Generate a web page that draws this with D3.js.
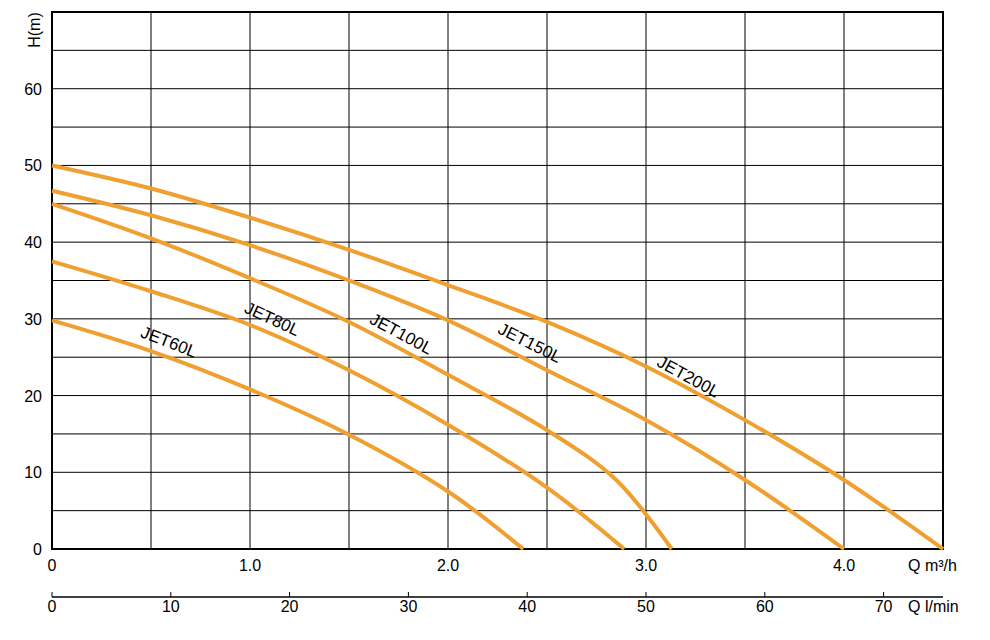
<!DOCTYPE html>
<html><head><meta charset="utf-8">
<script src="https://cdn.jsdelivr.net/npm/d3@7"></script>
<style>body{margin:0;background:#fff}text{font-family:Arial,"Liberation Sans",sans-serif}</style>
</head><body><svg id="c" width="990" height="640"></svg>
<script>
const xTicks=[0,1.0,2.0,3.0,4.0];
const yTicks=[0,10,20,30,40,50,60];
const lTicks=[0,10,20,30,40,50,60,70];
const jet60=[[0,29.8],[0.5,25.8],[1.0,20.8],[1.5,14.9],[2.0,7.5],[2.38,0]];
const jet80=[[0,37.5],[0.5,33.6],[1.0,29.2],[1.5,23.3],[2.0,16.2],[2.5,8],[2.89,0]];
const jet100=[[0,45],[0.5,40.5],[1.0,35.3],[1.5,29.6],[2.0,22.7],[2.5,15.5],[2.85,9],[3.13,0]];
const jet150=[[0,46.7],[0.5,43.5],[1.0,39.6],[1.5,35],[2.0,29.8],[2.5,23.3],[3.0,16.8],[3.5,9],[4.0,0]];
const jet200=[[0,50],[0.5,47],[1.0,43.2],[1.5,39],[2.0,34.4],[2.5,29.6],[3.0,23.8],[3.5,16.8],[4.0,9],[4.5,0]];
const labels=[["JET60L",0.58,26.3,jet60],["JET80L",1.1,29.3,jet80],["JET100L",1.75,27.4,jet100],["JET150L",2.4,26.2,jet150],["JET200L",3.2,21.8,jet200]];
const svg=d3.select("#c");
const x=d3.scaleLinear().domain([0,4.5]).range([52,943]);
const y=d3.scaleLinear().domain([0,70]).range([549,12]);
const xl=d3.scaleLinear().domain([0,75]).range([52,943]);
const g=svg.append("g");
d3.range(0.5,4.5,0.5).forEach(v=>g.append("line").attr("x1",x(v)).attr("x2",x(v)).attr("y1",y(0)).attr("y2",y(70)).attr("stroke","#000").attr("stroke-width",1));
d3.range(5,70,5).forEach(v=>g.append("line").attr("x1",x(0)).attr("x2",x(4.5)).attr("y1",y(v)).attr("y2",y(v)).attr("stroke","#000").attr("stroke-width",1));
g.append("rect").attr("x",x(0)).attr("y",y(70)).attr("width",x(4.5)-x(0)).attr("height",y(0)-y(70)).attr("fill","none").attr("stroke","#000").attr("stroke-width",2);
const line=d3.line().x(d=>x(d[0])).y(d=>y(d[1])).curve(d3.curveCatmullRom.alpha(0.5));
[jet60,jet80,jet100,jet150,jet200].forEach(s=>svg.append("path").attr("d",line(s)).attr("fill","none").attr("stroke","#f0a030").attr("stroke-width",4));
labels.forEach(([t,a,b,s])=>{
  let i=s.findIndex(p=>p[0]>a); if(i<1)i=1;
  const ang=Math.atan2(y(s[i][1])-y(s[i-1][1]),x(s[i][0])-x(s[i-1][0]))*180/Math.PI;
  svg.append("text").attr("transform",`translate(${x(a)},${y(b)}) rotate(${ang})`).attr("text-anchor","middle").attr("font-size",17).text(t);
});
yTicks.forEach(v=>svg.append("text").attr("x",42).attr("y",y(v)+6).attr("text-anchor","end").attr("font-size",16).text(v));
svg.append("text").attr("transform","translate(40,30) rotate(-90)").attr("text-anchor","middle").attr("font-size",16).text("H(m)");
xTicks.forEach(v=>svg.append("text").attr("x",x(v)).attr("y",571).attr("text-anchor","middle").attr("font-size",16).text(v===0?"0":v.toFixed(1)));
svg.append("text").attr("x",908).attr("y",571).attr("font-size",16).text("Q m³/h");
svg.append("line").attr("x1",x(0)).attr("x2",x(4.5)).attr("y1",597).attr("y2",597).attr("stroke","#000").attr("stroke-width",1.5);
lTicks.forEach(v=>{svg.append("line").attr("x1",xl(v)).attr("x2",xl(v)).attr("y1",592).attr("y2",597).attr("stroke","#000");
 svg.append("text").attr("x",xl(v)).attr("y",612).attr("text-anchor","middle").attr("font-size",16).text(v);});
svg.append("text").attr("x",908).attr("y",612).attr("font-size",16).text("Q l/min");
</script></body></html>
